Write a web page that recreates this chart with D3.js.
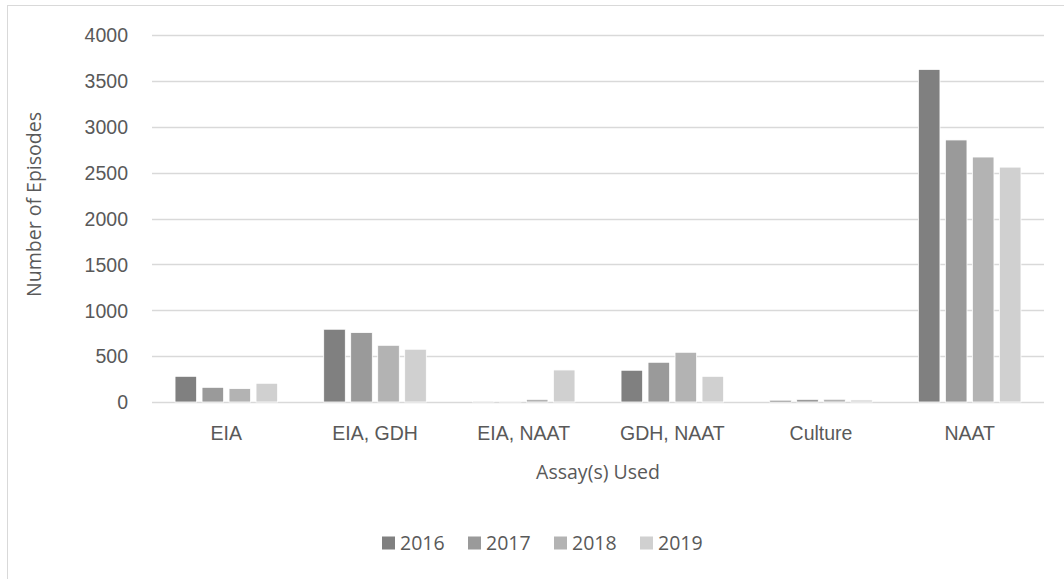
<!DOCTYPE html>
<html>
<head>
<meta charset="utf-8">
<script src="https://cdn.jsdelivr.net/npm/d3@7"></script>
<style>
  html, body { margin: 0; padding: 0; background: #fff; }
  svg { display: block; font-family: "Open Sans", "Liberation Sans", sans-serif; }
</style>
</head>
<body>
<svg id="chart" width="1064" height="579"></svg>
<script>
// Assay categories and yearly episode counts
const categories = ["EIA", "EIA, GDH", "EIA, NAAT", "GDH, NAAT", "Culture", "NAAT"];
const years = ["2016", "2017", "2018", "2019"];
const values2016 = [280, 793, 10, 346, 19, 3625];
const values2017 = [160, 757, 4, 433, 29, 2856];
const values2018 = [146, 618, 29, 542, 30, 2670];
const values2019 = [204, 575, 349, 280, 22, 2560];
const yTicks = [0, 500, 1000, 1500, 2000, 2500, 3000, 3500, 4000];
const yearColors = ["#808080", "#9a9a9a", "#b3b3b3", "#d0d0d0"];

const seriesValues = [values2016, values2017, values2018, values2019];
const rows = categories.map((c, i) => ({
  category: c,
  bars: years.map((y, j) => ({ year: y, value: seriesValues[j][i] }))
}));

const svg = d3.select("#chart");
const textColor = "#595959";
const fontSize = "19.5px";

// chart frame
svg.append("rect")
  .attr("x", 7.5).attr("y", 5.5)
  .attr("width", 1100).attr("height", 600)
  .attr("fill", "none").attr("stroke", "#d9d9d9").attr("stroke-width", 1);

const plot = { left: 152, right: 1044, top: 35, bottom: 402 };

const x0 = d3.scaleBand()
  .domain(categories)
  .range([plot.left, plot.right])
  .padding(0);

const groupW = 102.6;
const x1 = d3.scaleBand()
  .domain(years)
  .range([(x0.bandwidth() - groupW) / 2, (x0.bandwidth() + groupW) / 2])
  .paddingInner(0.2)
  .paddingOuter(0);

const y = d3.scaleLinear().domain([0, 4000]).range([plot.bottom, plot.top]);

const color = d3.scaleOrdinal().domain(years).range(yearColors);

// gridlines
svg.append("g")
  .selectAll("line")
  .data(yTicks)
  .join("line")
  .attr("x1", plot.left).attr("x2", plot.right)
  .attr("y1", d => Math.round(y(d)) + 0.5)
  .attr("y2", d => Math.round(y(d)) + 0.5)
  .attr("stroke", "#d9d9d9").attr("stroke-width", 1.3);

// y axis labels
const yAxis = d3.axisLeft(y).tickValues(yTicks).tickFormat(d3.format("d")).tickSize(0).tickPadding(0);
const yG = svg.append("g")
  .attr("transform", `translate(${plot.left - 24},0)`)
  .call(yAxis);
yG.select(".domain").remove();
yG.selectAll("text")
  .attr("fill", textColor)
  .style("font-size", fontSize)
  .attr("dy", "0.35em");

// bars
const groups = svg.append("g")
  .selectAll("g")
  .data(rows)
  .join("g")
  .attr("transform", d => `translate(${x0(d.category)},0)`);

groups.selectAll("rect")
  .data(d => d.bars)
  .join("rect")
  .attr("x", d => x1(d.year))
  .attr("width", x1.bandwidth())
  .attr("y", d => y(d.value))
  .attr("height", d => y(0) - y(d.value))
  .attr("fill", d => color(d.year))
  .attr("stroke", "#ffffff")
  .attr("stroke-width", 0.8);

// category labels
const xAxis = d3.axisBottom(x0).tickSize(0).tickPadding(0);
const xG = svg.append("g")
  .attr("transform", `translate(0,${plot.bottom + 31})`)
  .call(xAxis);
xG.select(".domain").remove();
xG.selectAll("text")
  .attr("fill", textColor)
  .style("font-size", fontSize)
  .attr("dy", "0.35em");

// axis titles
svg.append("text")
  .attr("x", (plot.left + plot.right) / 2)
  .attr("y", 472)
  .attr("dy", "0.35em")
  .attr("text-anchor", "middle")
  .attr("fill", textColor)
  .style("font-size", fontSize)
  .text("Assay(s) Used");

svg.append("text")
  .attr("transform", `translate(34,${(plot.top + plot.bottom) / 2 - 14}) rotate(-90)`)
  .attr("dy", "0.35em")
  .attr("text-anchor", "middle")
  .attr("fill", textColor)
  .style("font-size", fontSize)
  .text("Number of Episodes");

// legend
const legend = svg.append("g")
  .attr("transform", "translate(382,543)");
const item = legend.selectAll("g")
  .data(years)
  .join("g")
  .attr("transform", (d, i) => `translate(${i * 86},0)`);
item.append("rect")
  .attr("x", 0).attr("y", -6.5)
  .attr("width", 13).attr("height", 13)
  .attr("fill", d => color(d));
item.append("text")
  .attr("x", 18).attr("y", 0)
  .attr("dy", "0.35em")
  .attr("fill", textColor)
  .style("font-size", fontSize)
  .text(d => d);
</script>
</body>
</html>
